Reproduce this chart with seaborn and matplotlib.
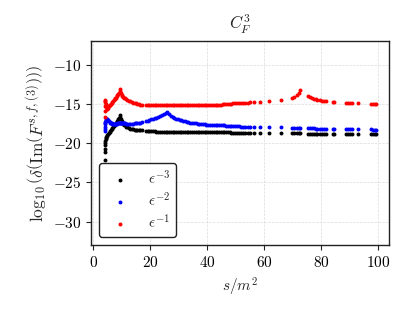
import matplotlib
matplotlib.use("Agg")
import matplotlib.pyplot as plt
import seaborn as sns


# -------------------------------
# Data
# -------------------------------

s_vals = [
    4.02, 4.05, 4.1, 4.15, 4.2, 4.3, 4.4, 4.5, 4.6, 4.8,
    5.0, 5.25, 5.5, 5.75, 6.0, 6.25, 6.5, 6.75, 7.0, 7.25,
    7.5, 7.75, 8.0, 8.25, 8.5, 8.75, 9.0, 9.25, 9.5, 9.75,
    10.0, 10.25, 10.5, 10.75, 11.0, 11.5, 12.0, 12.5, 13.0, 13.5,
    14.0, 14.5, 15.0, 15.5, 16.0, 16.5, 17.0,
    18.5, 19.2, 19.7, 20.4, 21.0, 21.7, 22.2, 22.9, 23.5, 24.2,
    24.7, 25.4, 26.0, 26.6, 27.2, 27.9, 28.4, 29.1, 29.7, 30.4,
    30.9, 31.6, 32.2, 32.9, 33.4, 34.1, 34.7, 35.4, 35.9, 36.6,
    37.2, 37.9, 38.4, 39.1, 39.7, 40.4, 40.9, 41.6, 42.2, 42.9,
    43.4, 44.1, 44.7, 45.4, 45.9, 46.6, 47.2, 47.9, 48.4, 49.1,
    49.7, 50.4, 51.0, 51.8, 52.5, 53.4, 54.2, 55.0,
    56.5, 58.5, 61.5, 65.8, 69.8, 70.5, 71.3, 72.1, 72.6, 75.3,
    75.9, 76.6, 77.3, 78.0, 78.6, 79.4, 80.1, 81.0, 81.7, 84.0,
    84.6, 88.6, 89.3, 90.0, 90.7, 93.0, 97.3, 98.0, 98.7, 99.2,
]

# eps^-3
eps3 = [
    -22.1, -21.1, -20.7, -20.3, -20.0, -19.7, -19.5, -19.35, -19.2, -19.05,
    -18.95, -18.8, -18.7, -18.55, -18.45, -18.3, -18.2, -18.05, -17.95, -17.8,
    -17.7, -17.55, -17.45, -17.3, -17.15, -17.0, -16.85, -16.65, -16.4, -16.9,
    -17.2, -17.4, -17.55, -17.65, -17.75, -17.9, -18.0, -18.1, -18.15, -18.2,
    -18.25, -18.3, -18.3, -18.35, -18.35, -18.4, -18.4,
    -18.45, -18.45, -18.5, -18.5, -18.5, -18.5, -18.55, -18.55, -18.55, -18.55,
    -18.55, -18.6, -18.6, -18.6, -18.6, -18.6, -18.6, -18.6, -18.6, -18.65,
    -18.65, -18.65, -18.65, -18.65, -18.65, -18.65, -18.65, -18.65, -18.65, -18.65,
    -18.65, -18.65, -18.65, -18.65, -18.65, -18.65, -18.65, -18.65, -18.65, -18.65,
    -18.65, -18.65, -18.65, -18.65, -18.65, -18.65, -18.65, -18.65, -18.7, -18.7,
    -18.7, -18.7, -18.7, -18.7, -18.7, -18.7, -18.7, -18.7,
    -18.7, -18.7, -18.75, -18.75, -18.75, -18.75, -18.75, -18.75, -18.75, -18.8,
    -18.8, -18.8, -18.8, -18.8, -18.8, -18.8, -18.8, -18.8, -18.85, -18.85,
    -18.85, -18.85, -18.85, -18.85, -18.85, -18.85, -18.9, -18.9, -18.9, -18.9,
]

# eps^-2
eps2 = [
    -18.5, -18.2, -17.9, -17.6, -17.5, -17.3, -17.2, -17.1, -17.0, -16.95,
    -17.0, -17.1, -17.2, -17.3, -17.4, -17.45, -17.5, -17.55, -17.6, -17.6,
    -17.6, -17.6, -17.55, -17.55, -17.5, -17.5, -17.5, -17.5, -17.5, -17.5,
    -17.5, -17.5, -17.5, -17.5, -17.5, -17.55, -17.55, -17.55, -17.55, -17.55,
    -17.55, -17.5, -17.5, -17.45, -17.4, -17.4, -17.35,
    -17.25, -17.15, -17.1, -17.0, -16.9, -16.8, -16.75, -16.65, -16.55, -16.45,
    -16.35, -16.2, -16.1, -16.35, -16.55, -16.7, -16.8, -16.9, -17.0, -17.05,
    -17.1, -17.2, -17.25, -17.3, -17.35, -17.4, -17.45, -17.5, -17.5, -17.55,
    -17.55, -17.6, -17.6, -17.6, -17.65, -17.65, -17.65, -17.7, -17.7, -17.7,
    -17.7, -17.75, -17.75, -17.75, -17.75, -17.8, -17.8, -17.8, -17.8, -17.85,
    -17.85, -17.85, -17.85, -17.9, -17.9, -17.9, -17.9, -17.95,
    -17.95, -17.95, -18.0, -18.0, -18.05, -18.05, -18.05, -18.05, -18.1, -18.1,
    -18.1, -18.1, -18.1, -18.15, -18.15, -18.15, -18.15, -18.15, -18.2, -18.2,
    -18.2, -18.2, -18.2, -18.25, -18.25, -18.25, -18.25, -18.3, -18.3, -18.3,
]

# eps^-1
eps1 = [
    -16.7, -15.9, -15.3, -14.8, -14.5, -14.7, -15.0, -15.2, -15.4, -15.6,
    -15.6, -15.5, -15.3, -15.2, -15.1, -15.0, -14.85, -14.75, -14.6, -14.5,
    -14.4, -14.3, -14.2, -14.05, -13.9, -13.75, -13.6, -13.4, -13.1, -13.6,
    -13.9, -14.05, -14.15, -14.25, -14.3, -14.45, -14.55, -14.65, -14.7, -14.8,
    -14.85, -14.9, -14.95, -15.0, -15.05, -15.1, -15.1,
    -15.2, -15.2, -15.2, -15.2, -15.2, -15.2, -15.2, -15.2, -15.2, -15.2,
    -15.2, -15.2, -15.2, -15.2, -15.2, -15.2, -15.2, -15.2, -15.2, -15.2,
    -15.2, -15.2, -15.2, -15.2, -15.2, -15.2, -15.2, -15.2, -15.2, -15.2,
    -15.2, -15.2, -15.2, -15.15, -15.15, -15.15, -15.15, -15.15, -15.1, -15.1,
    -15.1, -15.1, -15.1, -15.05, -15.05, -15.05, -15.0, -15.0, -15.0, -14.95,
    -14.95, -14.95, -14.9, -14.9, -14.9, -14.85, -14.85, -14.8,
    -14.8, -14.75, -14.7, -14.55, -14.25, -14.1, -13.9, -13.6, -13.3, -14.0,
    -14.15, -14.25, -14.35, -14.45, -14.5, -14.55, -14.6, -14.65, -14.7, -14.75,
    -14.8, -14.85, -14.85, -14.9, -14.9, -14.95, -15.0, -15.0, -15.05, -15.05,
]

series = [
    (eps3, "black", r"$\epsilon^{-3}$"),
    (eps2, "blue", r"$\epsilon^{-2}$"),
    (eps1, "red", r"$\epsilon^{-1}$"),
]


# -------------------------------
# Style
# -------------------------------

sns.set_style("ticks")
plt.rcParams["font.family"] = "serif"
plt.rcParams["font.serif"] = ["cmr10", "DejaVu Serif"]
plt.rcParams["mathtext.fontset"] = "cm"
plt.rcParams["axes.formatter.use_mathtext"] = True
plt.rcParams["font.size"] = 11


# -------------------------------
# Plot
# -------------------------------

fig = plt.figure(figsize=(4.1, 3.13), dpi=100)
ax = fig.add_axes([0.222, 0.217, 0.727, 0.652])

for vals, col, lab in series:
    sns.scatterplot(x=s_vals, y=vals, color=col, s=8, linewidth=0,
                    label=lab, ax=ax)

ax.set_xlim(-0.75, 103.75)
ax.set_ylim(-33, -7)
ax.set_xticks([0, 20, 40, 60, 80, 100])
ax.set_yticks([-30, -25, -20, -15, -10])

ax.grid(True, color="lightgray", linestyle="--", linewidth=0.5, alpha=0.8)
for sp in ax.spines.values():
    sp.set_color("#222222")
    sp.set_linewidth(1.0)
ax.tick_params(colors="#222222", labelcolor="black", labelsize=11)

ylab = r"$\log_{10}\left(\delta\left(\mathrm{Im}\left(F^{s,f,(3)}\right)\right)\right)$"

ax.set_title(r"$C_F^3$", fontsize=12, pad=8)
ax.set_xlabel(r"$s/m^2$", fontsize=11)
ax.set_ylabel(ylab, fontsize=12.5, labelpad=3)

leg = ax.legend(loc="lower left", fontsize=11, frameon=True, fancybox=True,
                framealpha=1.0, edgecolor="#222222", labelspacing=0.3)
leg.get_frame().set_linewidth(1.0)

fig.savefig("out.png", dpi=100)
